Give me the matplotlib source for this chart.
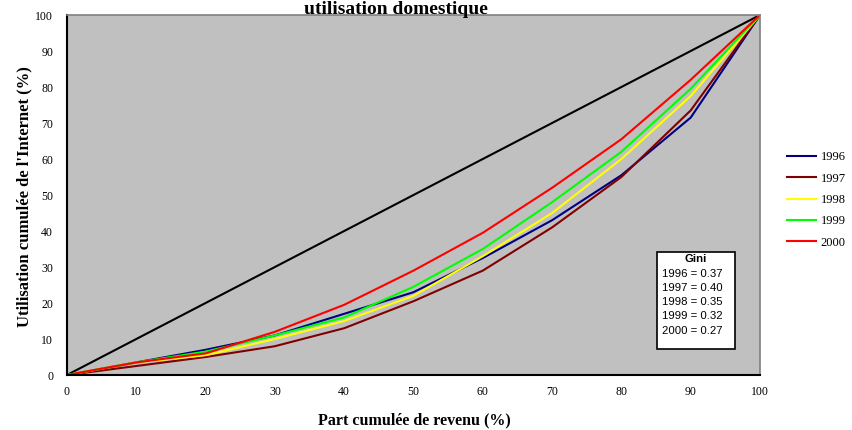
import matplotlib.pyplot as plt
from matplotlib.patches import Rectangle

# cumulative share of income (%)
x = [0, 10, 20, 30, 40, 50, 60, 70, 80, 90, 100]

# cumulative share of internet use (%)
y1996 = [0, 3.5, 7, 11, 17, 23, 32.5, 43, 55.5, 71.5, 100]
y1997 = [0, 2.5, 5, 8, 13, 20.5, 29, 41, 55, 73.5, 100]
y1998 = [0, 3.5, 5.5, 10, 15, 22, 33, 45, 60, 77.5, 100]
y1999 = [0, 3.5, 6.5, 11, 16, 24.5, 35, 48, 62, 79.5, 100]
y2000 = [0, 3.5, 6, 12, 19.5, 29, 39.5, 52, 65.5, 82, 100]

years = ['1996', '1997', '1998', '1999', '2000']
colors = ['#000080', '#800000', '#FFFF00', '#00FF00', '#FF0000']
gini = ['0.37', '0.40', '0.35', '0.32', '0.27']

plt.rcParams['font.family'] = ['Liberation Serif', 'DejaVu Serif']

W, H = 852, 430
def fx(px):
    return px / W
def fy(py):
    return 1 - py / H

fig = plt.figure(figsize=(8.52, 4.30), dpi=100)
ax = fig.add_axes([fx(67), fy(375), 693 / W, 360 / H])
ax.set_facecolor('#C0C0C0')

# line of equality
ax.plot(x, x, color='black', lw=1.5)

series = [y1996, y1997, y1998, y1999, y2000]
lines = []
for ys, c, yr in zip(series, colors, years):
    ln, = ax.plot(x, ys, color=c, lw=1.5, label=yr)
    lines.append(ln)

ax.set_xlim(0, 100)
ax.set_ylim(0, 100)
ax.set_xticks(range(0, 101, 10))
ax.set_yticks(range(0, 101, 10))
ax.tick_params(axis='both', labelsize=8.5, length=0)
ax.tick_params(axis='y', pad=10)
ax.tick_params(axis='x', pad=8)

for s in ['left', 'bottom']:
    ax.spines[s].set_linewidth(1.5)
    ax.spines[s].set_color('black')
for s in ['top', 'right']:
    ax.spines[s].set_linewidth(1.2)
    ax.spines[s].set_color('#808080')

fig.text(fx(414), fy(420), 'Part cumulée de revenu (%)', ha='center', va='center',
         fontsize=11.5, fontweight='bold')
fig.text(fx(24), fy(197), "Utilisation cumulée de l'Internet (%)", ha='center', va='center',
         rotation=90, fontsize=12, fontweight='bold')

# title sits right against the top edge, as in the original
fig.text(fx(396), fy(14), 'utilisation domestique', ha='center', va='baseline',
         fontsize=14, fontweight='bold', zorder=5)

fig.legend(handles=lines, loc='center left', bbox_to_anchor=(fx(787), fy(200)),
           frameon=False, fontsize=9, handlelength=2.3, labelspacing=0.75,
           handletextpad=0.4, borderpad=0, borderaxespad=0)

# Gini box
fig.add_artist(Rectangle((fx(657), fy(349)), 78 / W, 97 / H, transform=fig.transFigure,
                         facecolor='white', edgecolor='black', lw=1.2))
fig.text(fx(696), fy(259), 'Gini', ha='center', va='center', fontsize=8.2,
         family='Liberation Sans', fontweight='bold')
rows_y = [274, 288, 302, 316, 331]
for yr, g, ry in zip(years, gini, rows_y):
    fig.text(fx(662), fy(ry), f'{yr} = {g}', ha='left', va='center', fontsize=8.2,
             family='Liberation Sans')

fig.savefig('out.png', dpi=100)
